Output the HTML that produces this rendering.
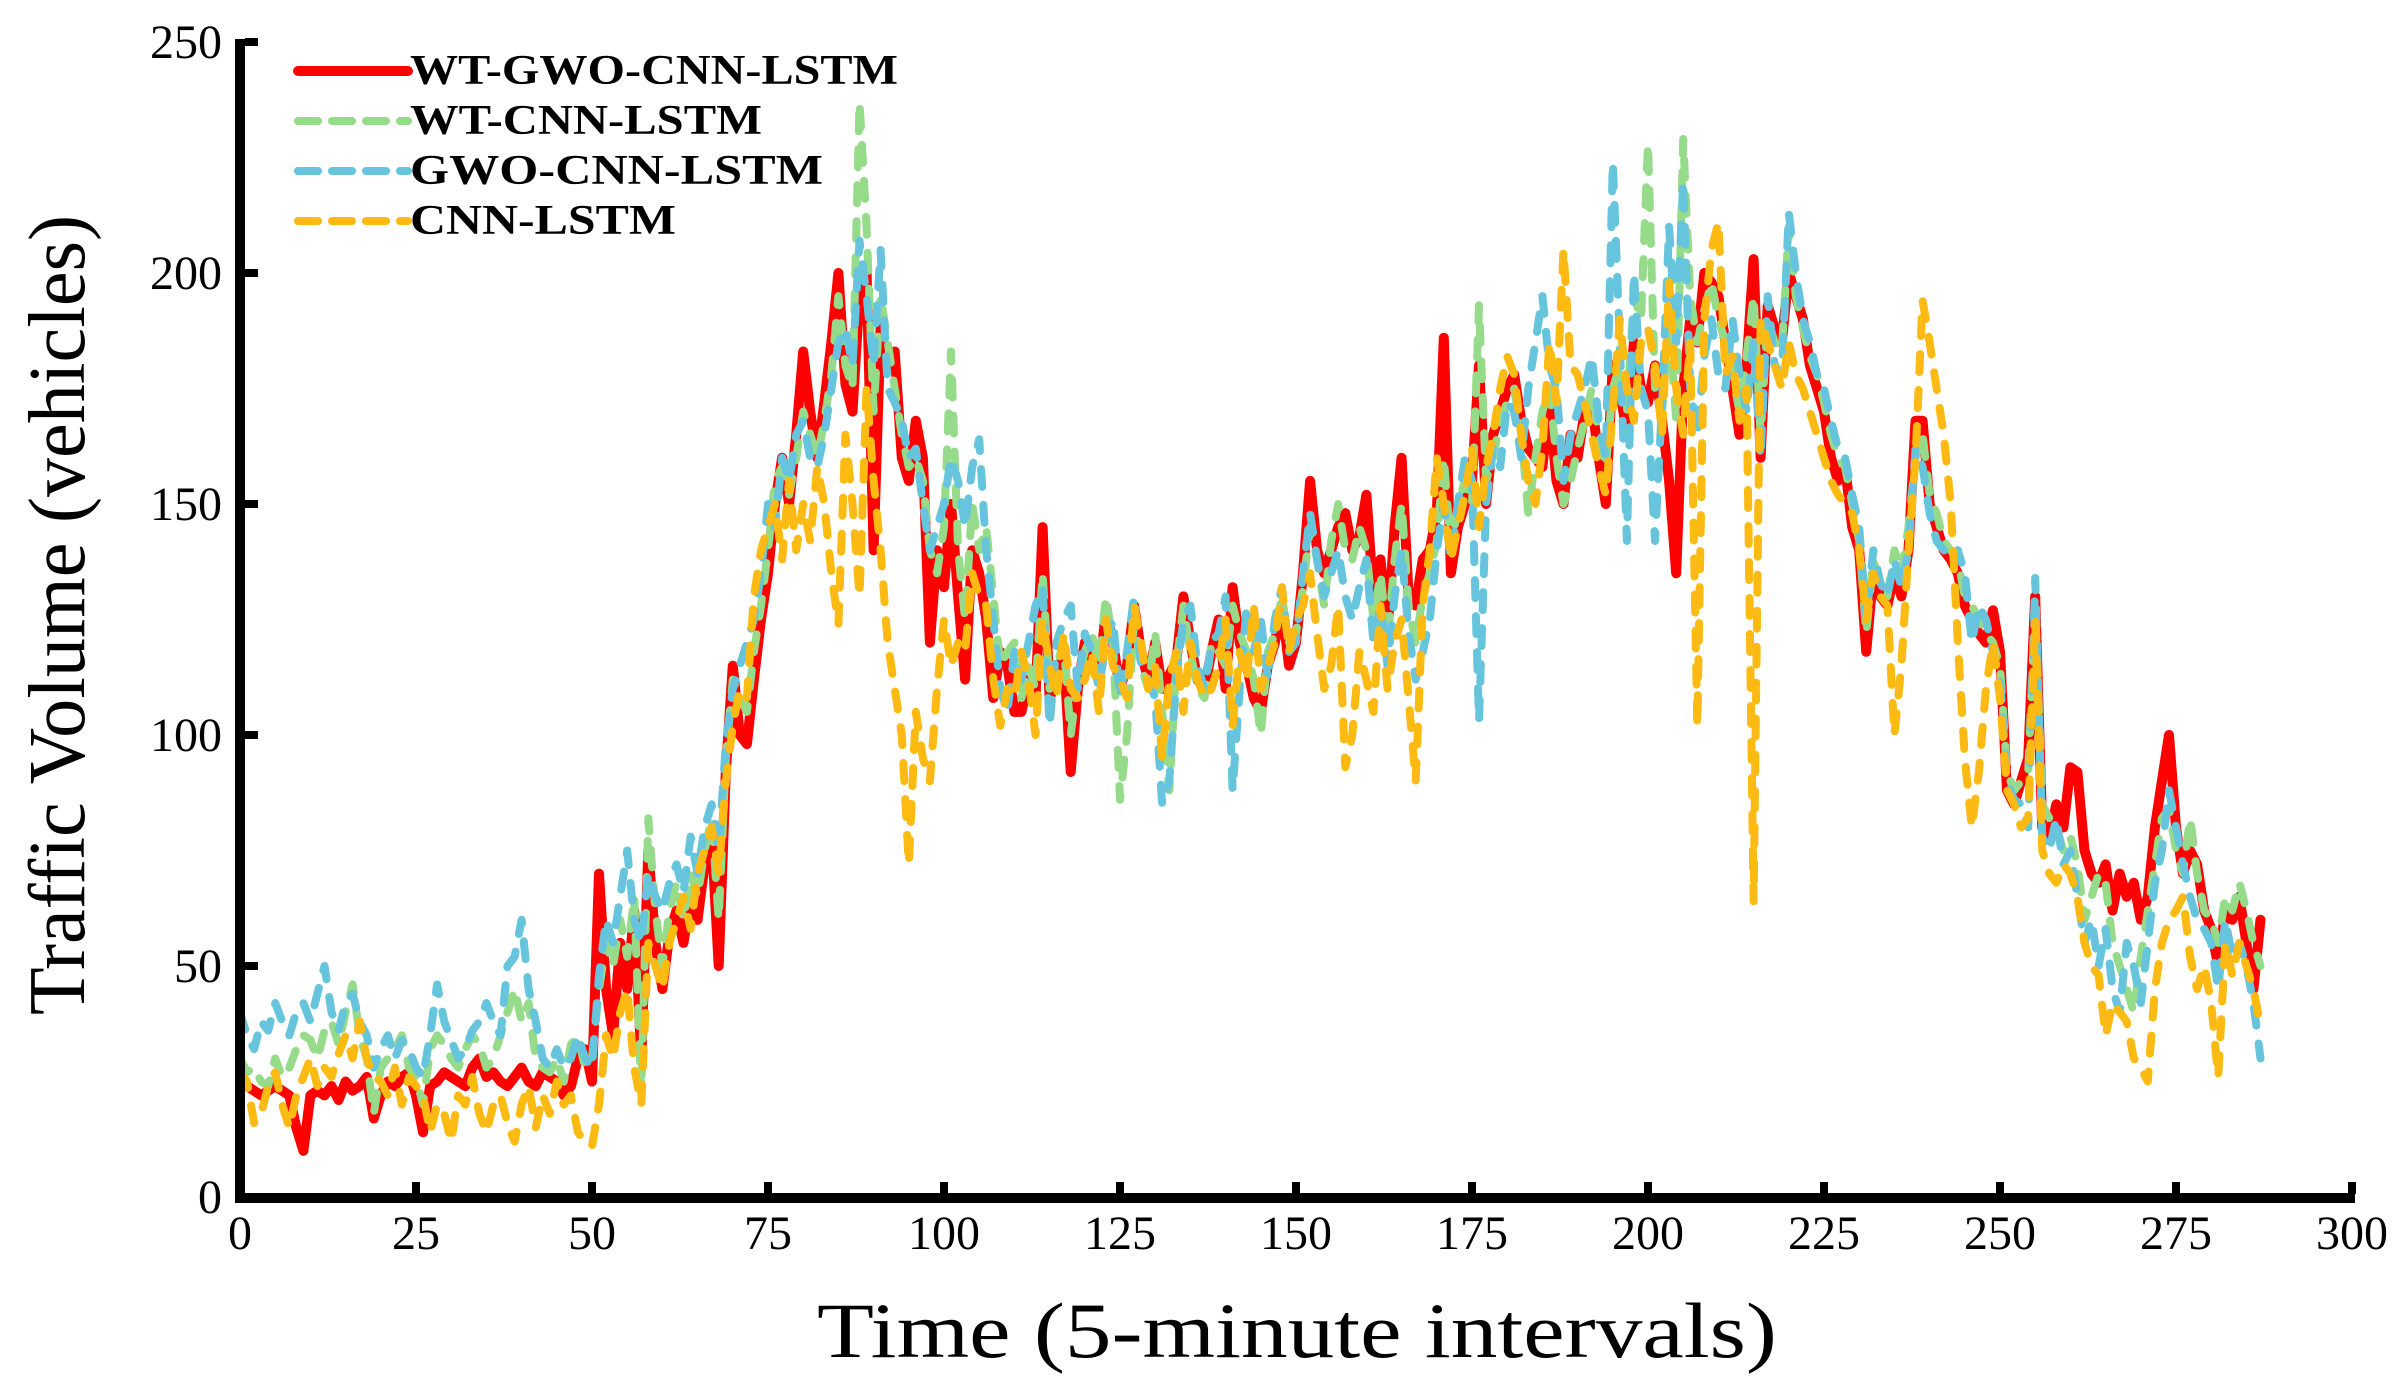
<!DOCTYPE html>
<html><head><meta charset="utf-8"><style>
html,body{margin:0;padding:0;background:#fff;}
svg{display:block;}
</style></head><body>
<svg id="chart" width="2406" height="1391" viewBox="0 0 2406 1391" xmlns="http://www.w3.org/2000/svg" font-family="'Liberation Serif', serif">
<g id="series"></g>
<g id="axes"></g>
<g id="legend"></g>
<text x="1297" y="1357" font-size="78" text-anchor="middle" textLength="960" lengthAdjust="spacingAndGlyphs">Time (5-minute intervals)</text>
<text transform="translate(84,615) rotate(-90)" font-size="80" text-anchor="middle" textLength="800" lengthAdjust="spacingAndGlyphs">Traffic Volume (vehicles)</text>
</svg>
<script>
const xTicks = [0,25,50,75,100,125,150,175,200,225,250,275,300];
const yTicks = [0,50,100,150,200,250];
const seriesNames = ["WT-GWO-CNN-LSTM","WT-CNN-LSTM","GWO-CNN-LSTM","CNN-LSTM"];
const wtGwoCnnLstm = [26,24,23,22,23,24,23,22,15,10,22,23,22,24,21,25,23,24,26,17,22,25,24,26,27,22,14,24,25,27,26,25,24,28,30,26,27,25,24,26,28,25,24,27,26,25,22,24,30,32,25,70,45,35,55,45,62,30,75,55,45,57,62,55,65,60,72,78,50,92,115,100,98,112,125,135,150,160,150,165,183,170,160,172,185,200,176,170,195,200,140,188,180,183,160,155,168,160,120,140,132,150,130,112,140,135,125,108,118,115,105,105,112,108,145,108,112,118,92,110,120,115,112,127,120,110,115,128,118,112,120,110,113,116,130,120,112,110,118,125,110,132,120,115,108,105,115,120,128,115,120,135,155,140,135,140,145,148,140,143,152,130,138,122,145,160,130,128,138,140,148,186,135,145,150,155,180,150,165,170,175,178,168,162,160,158,172,155,150,165,160,170,172,160,150,180,175,165,185,175,172,180,168,155,135,175,190,185,200,198,195,185,175,165,180,203,160,193,188,185,200,195,190,180,175,170,160,155,158,145,140,118,135,130,128,135,130,140,168,168,150,145,140,138,135,128,125,122,120,127,118,88,85,90,95,130,80,78,85,80,93,92,75,70,68,72,62,70,65,68,60,65,80,90,100,80,70,75,72,62,58,50,62,60,65,55,45,60];
const wtCnnLstm = [30,27,28,25,24,30,26,28,32,35,34,30,36,38,33,40,46,35,30,18,28,30,32,35,28,26,20,32,35,33,30,28,32,35,33,28,30,35,40,45,38,42,30,28,27,30,25,33,35,28,30,45,55,50,60,52,65,22,82,62,50,62,68,60,70,65,75,82,60,95,112,108,105,118,128,140,155,158,152,160,170,165,160,168,178,195,180,175,237,210,170,195,185,175,165,158,160,155,140,135,145,183,140,125,150,140,145,130,115,118,120,108,115,110,135,110,115,120,100,112,118,122,115,130,120,86,100,125,115,110,122,105,88,115,128,118,110,108,120,118,115,128,122,118,112,100,118,122,130,120,122,132,145,138,128,142,150,140,138,145,140,125,135,120,138,150,128,120,130,135,142,160,140,150,155,150,193,155,160,168,172,175,165,148,160,170,175,160,150,155,162,168,175,165,158,175,180,170,195,190,228,175,170,190,168,229,195,185,192,198,190,185,178,170,182,195,165,190,185,183,210,195,188,182,178,172,165,160,158,150,142,122,138,132,130,140,135,145,160,165,152,148,142,140,138,130,128,125,122,120,115,92,88,90,92,128,85,82,80,75,78,72,60,65,70,68,55,50,45,40,52,62,72,82,84,75,70,82,70,62,60,55,65,62,68,62,55,50];
const gwoCnnLstm = [40,35,32,38,36,42,38,35,40,42,38,44,50,40,36,42,44,38,35,28,32,35,30,34,32,28,26,35,46,38,34,30,32,36,38,42,38,35,50,52,60,45,38,30,28,32,28,30,35,30,28,48,60,55,65,75,60,55,70,65,62,68,72,66,78,70,80,85,75,98,110,115,120,125,135,150,145,160,155,165,168,160,158,165,175,185,188,180,207,195,180,205,175,172,168,160,162,150,140,145,150,160,155,145,158,164,140,125,110,105,118,112,120,128,132,102,120,125,128,110,122,118,110,120,125,108,118,130,115,112,108,85,90,112,125,128,115,110,120,122,130,88,110,128,118,125,112,125,132,118,120,135,148,138,130,135,140,130,125,132,138,120,128,115,130,140,122,112,118,125,140,150,138,150,160,155,103,150,162,158,172,170,160,175,185,195,180,175,155,165,170,175,182,168,160,224,185,142,200,175,170,142,172,210,185,220,175,165,182,190,178,175,190,178,170,185,160,195,180,178,213,200,190,185,178,175,168,162,160,152,145,125,140,133,130,138,132,140,162,158,148,142,140,138,140,135,120,128,125,118,112,90,86,85,80,134,78,75,82,72,75,65,55,60,50,58,45,40,55,50,42,55,68,75,88,80,72,65,60,58,55,45,60,52,55,50,42,30];
const cnnLstm = [27,25,16,18,24,27,20,15,22,26,30,24,28,26,31,35,30,38,30,26,25,22,28,20,26,24,22,14,20,18,12,22,20,26,18,14,20,22,16,12,20,24,15,22,18,25,20,22,14,12,11,20,35,30,40,45,28,20,55,50,45,55,60,65,58,70,75,80,70,90,102,110,108,130,140,145,150,138,155,140,150,142,158,150,135,124,165,150,130,175,155,140,120,110,100,72,105,95,90,110,125,115,120,118,135,130,128,112,102,110,108,118,112,100,125,115,108,122,110,108,112,118,105,125,115,112,108,128,120,110,115,95,112,118,105,120,112,108,110,115,125,102,118,112,128,110,115,120,132,118,125,128,135,122,110,115,128,93,100,118,112,105,128,110,120,125,108,90,128,140,160,150,138,145,152,162,145,158,165,175,182,178,165,155,150,162,185,172,205,180,178,172,165,158,152,170,190,175,168,185,188,180,165,198,175,165,185,102,190,205,211,178,182,168,175,64,190,185,180,175,185,178,175,170,165,160,155,152,150,148,140,125,135,130,128,100,115,140,160,194,185,175,165,150,120,95,80,92,110,120,108,88,85,80,82,125,75,70,68,72,70,65,55,50,48,35,42,40,38,30,28,25,45,55,60,62,65,52,45,50,42,26,55,48,55,50,45,37];

const NS = "http://www.w3.org/2000/svg";
const X0 = 240, XPX = 7.04, Y0 = 1197, YPX = 4.62;
function xScale(t){ return X0 + t*XPX; }
function yScale(v){ return Y0 - v*YPX; }
function mk(tag, attrs, parent){
  const e = document.createElementNS(NS, tag);
  for (const k in attrs) e.setAttribute(k, attrs[k]);
  parent.appendChild(e);
  return e;
}
const seriesG = document.getElementById('series');
const styles = [
  {color:'#ff0000', w:10, dash:null},
  {color:'#96db8a', w:8, dash:'18 18'},
  {color:'#66c5dc', w:8, dash:'18 18'},
  {color:'#fcba12', w:8, dash:'18 18'}
];
const allSeries = [wtGwoCnnLstm, wtCnnLstm, gwoCnnLstm, cnnLstm];
const seriesKeys = ['wt-gwo-cnn-lstm','wt-cnn-lstm','gwo-cnn-lstm','cnn-lstm'];
allSeries.forEach((data, i) => {
  const d = data.map((v, t) => (t ? 'L' : 'M') + xScale(t).toFixed(1) + ' ' + yScale(v).toFixed(1)).join(' ');
  const attrs = {d:d, fill:'none', stroke:styles[i].color, 'stroke-width':styles[i].w, 'stroke-linejoin':'round', 'stroke-linecap':'round'};
  if (styles[i].dash) attrs['stroke-dasharray'] = styles[i].dash;
  const p = mk('path', attrs, seriesG);
  
  
});

const axes = document.getElementById('axes');
const xAxis = mk('rect', {x:235, y:1193, width:2120, height:10, fill:'#000'}, axes);


const yAxis = mk('rect', {x:235, y:39, width:10, height:1164, fill:'#000'}, axes);


xTicks.forEach(t => {
  const x = xScale(t);
  if (t > 0) {
    const tk = mk('rect', {x:x-4, y:1182, width:8, height:12, fill:'#000'}, axes);
    
    
  }
  const lb = mk('text', {x:x, y:1249, 'font-size':48, 'text-anchor':'middle'}, axes);
  lb.textContent = String(t);
  
  
});
yTicks.forEach(v => {
  const y = yScale(v);
  if (v > 0) {
    const tk = mk('rect', {x:245, y:y-4, width:13, height:8, fill:'#000'}, axes);
    
    
  }
  const lb = mk('text', {x:222, y:y+16, 'font-size':48, 'text-anchor':'end'}, axes);
  lb.textContent = String(v);
  
  
});

const legend = document.getElementById('legend');
const legendWidths = [488, 352, 413, 266];
seriesNames.forEach((name, i) => {
  const y = 71 + i*50;
  const g = mk('g', {}, legend);
  
  
  const la = {x1:298, y1:y, x2:408, y2:y, stroke:styles[i].color, 'stroke-width':styles[i].w, 'stroke-linecap':'round'};
  if (styles[i].dash) la['stroke-dasharray'] = '20 14';
  const ln = mk('line', la, g);
  
  
  const tx = mk('text', {x:410, y:y+13, 'font-size':42, 'font-weight':'bold', textLength:legendWidths[i], lengthAdjust:'spacingAndGlyphs'}, g);
  tx.textContent = name;
  
  
});
</script>
</body></html>
